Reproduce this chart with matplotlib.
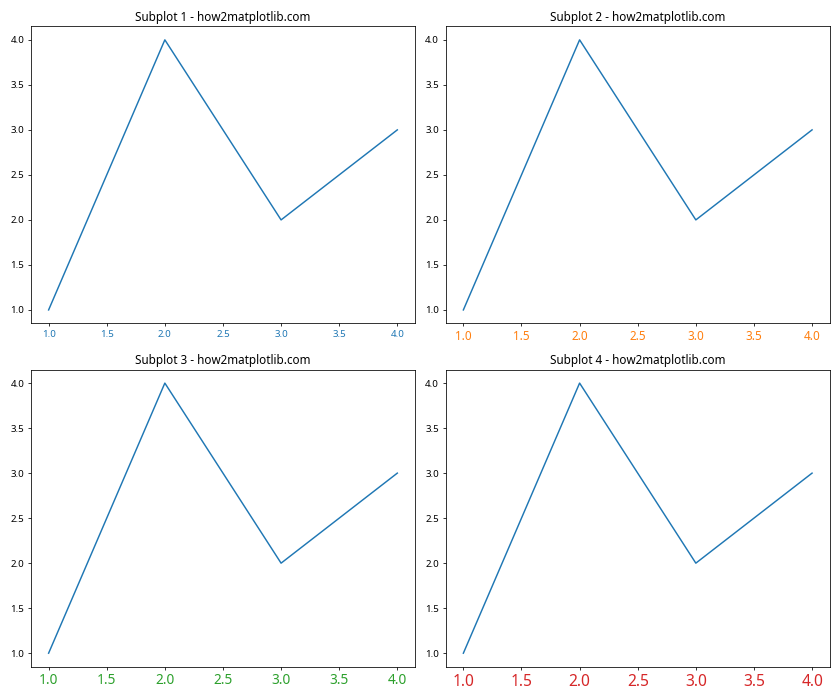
import matplotlib
matplotlib.use("Agg")
import matplotlib.pyplot as plt

plt.rcParams['font.family'] = ['Noto Sans', 'DejaVu Sans']

x = [1, 2, 3, 4]
y = [1, 4, 2, 3]
titles = ["Subplot 1 - how2matplotlib.com", "Subplot 2 - how2matplotlib.com",
          "Subplot 3 - how2matplotlib.com", "Subplot 4 - how2matplotlib.com"]
tick_colors = ["tab:blue", "tab:orange", "tab:green", "tab:red"]
tick_sizes = [10, 12, 14, 16]

fig, axs = plt.subplots(2, 2, figsize=(12, 10), dpi=70)
for ax, t, c, s in zip(axs.flat, titles, tick_colors, tick_sizes):
    ax.plot(x, y)
    ax.set_title(t)
    ax.tick_params(axis='x', labelcolor=c, labelsize=s)
plt.tight_layout()
fig.savefig("out.png")
